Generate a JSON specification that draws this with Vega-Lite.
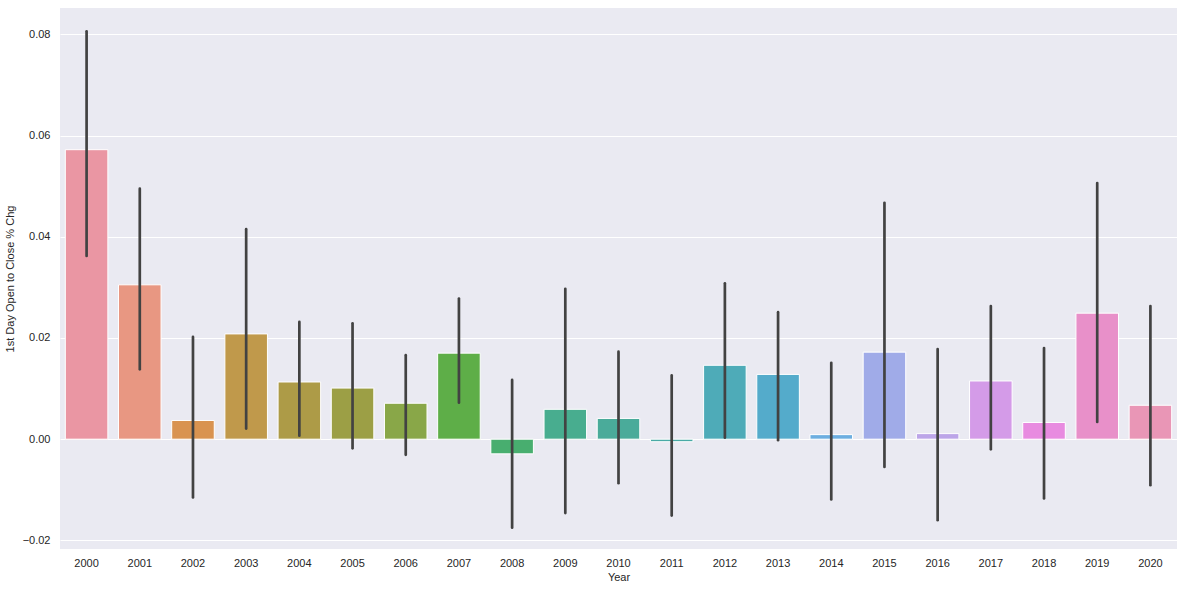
{
  "$schema": "https://vega.github.io/schema/vega-lite/v6.json",
  "width": 1117,
  "height": 541,
  "autosize": "none",
  "padding": {"left": 60, "top": 8, "right": 4, "bottom": 42},
  "background": "white",
  "data": {
    "values": [
      {"Year": "2000", "chg": 0.0572, "lo": 0.0362, "hi": 0.0806, "color": "#ea96a3"},
      {"Year": "2001", "chg": 0.0305, "lo": 0.0138, "hi": 0.0495, "color": "#e89782"},
      {"Year": "2002", "chg": 0.0037, "lo": -0.0115, "hi": 0.0202, "color": "#d99350"},
      {"Year": "2003", "chg": 0.0208, "lo": 0.0021, "hi": 0.0415, "color": "#c0994b"},
      {"Year": "2004", "chg": 0.0113, "lo": 0.0007, "hi": 0.0232, "color": "#ad9b47"},
      {"Year": "2005", "chg": 0.0101, "lo": -0.0018, "hi": 0.0229, "color": "#9c9f45"},
      {"Year": "2006", "chg": 0.0071, "lo": -0.0031, "hi": 0.0166, "color": "#89a748"},
      {"Year": "2007", "chg": 0.0170, "lo": 0.0072, "hi": 0.0278, "color": "#5eae48"},
      {"Year": "2008", "chg": -0.0029, "lo": -0.0175, "hi": 0.0117, "color": "#48ae6f"},
      {"Year": "2009", "chg": 0.0059, "lo": -0.0146, "hi": 0.0297, "color": "#48ad8f"},
      {"Year": "2010", "chg": 0.0041, "lo": -0.0087, "hi": 0.0173, "color": "#4aab9a"},
      {"Year": "2011", "chg": -0.0005, "lo": -0.0151, "hi": 0.0126, "color": "#49aaa6"},
      {"Year": "2012", "chg": 0.0146, "lo": 0.0003, "hi": 0.0308, "color": "#4eabb8"},
      {"Year": "2013", "chg": 0.0128, "lo": -0.0002, "hi": 0.0251, "color": "#54abcb"},
      {"Year": "2014", "chg": 0.0009, "lo": -0.0119, "hi": 0.0151, "color": "#6caee0"},
      {"Year": "2015", "chg": 0.0172, "lo": -0.0055, "hi": 0.0467, "color": "#a0abe8"},
      {"Year": "2016", "chg": 0.0011, "lo": -0.0160, "hi": 0.0178, "color": "#bca5e8"},
      {"Year": "2017", "chg": 0.0115, "lo": -0.0020, "hi": 0.0263, "color": "#d49be8"},
      {"Year": "2018", "chg": 0.0033, "lo": -0.0117, "hi": 0.0180, "color": "#e88be0"},
      {"Year": "2019", "chg": 0.0249, "lo": 0.0034, "hi": 0.0506, "color": "#e890c9"},
      {"Year": "2020", "chg": 0.0067, "lo": -0.0091, "hi": 0.0263, "color": "#e996b6"}
    ]
  },
  "encoding": {
    "x": {
      "field": "Year",
      "type": "nominal",
      "title": "Year",
      "scale": {"paddingInner": 0.2, "paddingOuter": 0.1},
      "axis": {
        "labelAngle": 0,
        "labelPadding": 8,
        "titlePadding": 3,
        "grid": false
      }
    }
  },
  "layer": [
    {
      "mark": {"type": "bar", "stroke": "white", "strokeWidth": 1},
      "encoding": {
        "y": {
          "field": "chg",
          "type": "quantitative",
          "title": "1st Day Open to Close % Chg",
          "scale": {"domain": [-0.0217, 0.0852], "nice": false, "zero": false},
          "axis": {
            "values": [-0.02, 0, 0.02, 0.04, 0.06, 0.08],
            "format": ".2f",
            "labelPadding": 10,
            "titlePadding": 7
          }
        },
        "color": {"field": "color", "type": "nominal", "scale": null, "legend": null}
      }
    },
    {
      "mark": {"type": "rule", "color": "#424242", "strokeWidth": 2.7, "strokeCap": "round"},
      "encoding": {
        "y": {"field": "lo", "type": "quantitative"},
        "y2": {"field": "hi"}
      }
    }
  ],
  "config": {
    "font": "Liberation Sans",
    "view": {"fill": "#eaeaf2", "stroke": null},
    "axis": {
      "domain": false,
      "ticks": false,
      "gridColor": "white",
      "gridWidth": 1,
      "labelFont": "Liberation Sans",
      "labelFontSize": 11,
      "labelColor": "#262626",
      "titleFont": "Liberation Sans",
      "titleFontSize": 11,
      "titleFontWeight": "normal",
      "titleColor": "#262626"
    }
  }
}
